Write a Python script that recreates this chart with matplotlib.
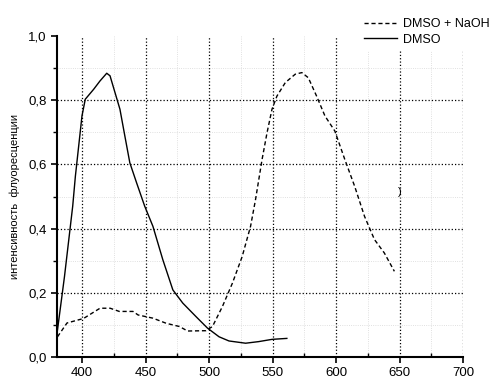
import numpy as np
import matplotlib.pyplot as plt
from matplotlib.ticker import MultipleLocator, FuncFormatter

plt.rcParams['font.family'] = ['Liberation Sans', 'DejaVu Sans']

# DMSO (solid)
x_dmso = [380.5, 386, 392.5, 394.6, 397.2, 399.8, 402.4, 409, 414, 419.3, 421.9, 425.8,
          429.7, 433.6, 437.5, 442.8, 449.2, 455.7, 463.5, 471.4, 479.2, 489.6, 498.7,
          507.8, 515.6, 528.7, 539, 549.5, 561.2]
y_dmso = [0.084, 0.25, 0.47, 0.563, 0.657, 0.751, 0.803, 0.834, 0.86, 0.884, 0.876, 0.824,
          0.772, 0.688, 0.605, 0.543, 0.47, 0.407, 0.303, 0.209, 0.168, 0.126, 0.09,
          0.063, 0.05, 0.043, 0.048, 0.055, 0.058]

# DMSO + NaOH (dashed)
x_naoh = [380.5, 388, 401, 414, 422, 429.2, 440, 444, 455.7, 466.2, 476.6, 483, 497.4,
          502.6, 510.4, 518.3, 526, 532.6, 536.5, 541.7, 545.6, 549.5, 553.4, 560, 567.8,
          573, 578.1, 584.6, 591.2, 599, 606.8, 614.6, 622.4, 630.2, 638, 645.9]
y_naoh = [0.063, 0.106, 0.12, 0.152, 0.152, 0.142, 0.142, 0.131, 0.121, 0.105, 0.095,
          0.081, 0.082, 0.095, 0.157, 0.23, 0.313, 0.407, 0.49, 0.616, 0.699, 0.772,
          0.813, 0.855, 0.881, 0.886, 0.87, 0.813, 0.751, 0.704, 0.616, 0.532, 0.438,
          0.366, 0.324, 0.267]

fig = plt.figure(figsize=(4.9, 3.79), dpi=100)
ax = fig.add_axes([0.116, 0.058, 0.829, 0.847])

l1, = ax.plot(x_naoh, y_naoh, color='black', lw=1.0, linestyle=(0, (3, 2)), label='DMSO + NaOH')
l2, = ax.plot(x_dmso, y_dmso, color='black', lw=1.0, label='DMSO')
ax.text(650, 0.515, ')', fontsize=8, ha='center', va='center')

ax.set_xlim(380, 700)
ax.set_ylim(0, 1.0)
ax.xaxis.set_major_locator(MultipleLocator(50))
ax.xaxis.set_minor_locator(MultipleLocator(25))
ax.yaxis.set_major_locator(MultipleLocator(0.2))
ax.yaxis.set_minor_locator(MultipleLocator(0.1))
ax.yaxis.set_major_formatter(FuncFormatter(lambda v, p: f'{v:.1f}'.replace('.', ',')))

ax.grid(True, which='major', color='black', linestyle=':', lw=0.9)
ax.grid(True, which='minor', color='#d6d6d6', linestyle=':', lw=0.6)
ax.set_axisbelow(True)
fig.canvas.draw()
for t in ax.yaxis.get_major_ticks():
    if t.get_loc() > 0.95:
        t.gridline.set_visible(False)
for t in ax.yaxis.get_minor_ticks():
    if t.get_loc() > 0.95:
        t.gridline.set_visible(False)

for s in ['top', 'right']:
    ax.spines[s].set_visible(False)
for s in ['left', 'bottom']:
    ax.spines[s].set_linewidth(1.5)
ax.tick_params(which='major', direction='out', length=4, width=1.2, labelsize=9.5)
ax.tick_params(axis='x', which='major', pad=3)
ax.tick_params(which='minor', direction='in', length=3, width=1.0)
ax.tick_params(axis='y', which='minor', direction='out')

ax.set_ylabel('интенсивность  флуоресценции', fontsize=8, labelpad=6)

leg = fig.legend(handles=[l1, l2], loc='upper right', bbox_to_anchor=(1.015, 0.972),
                 frameon=True, fancybox=False, fontsize=9, handlelength=2.6,
                 handletextpad=0.5, labelspacing=0.3, borderaxespad=0.2)
leg.get_frame().set_facecolor('white')
leg.get_frame().set_edgecolor('none')
leg.get_frame().set_alpha(1.0)
leg.set_zorder(10)

fig.savefig('out.png', dpi=100)
